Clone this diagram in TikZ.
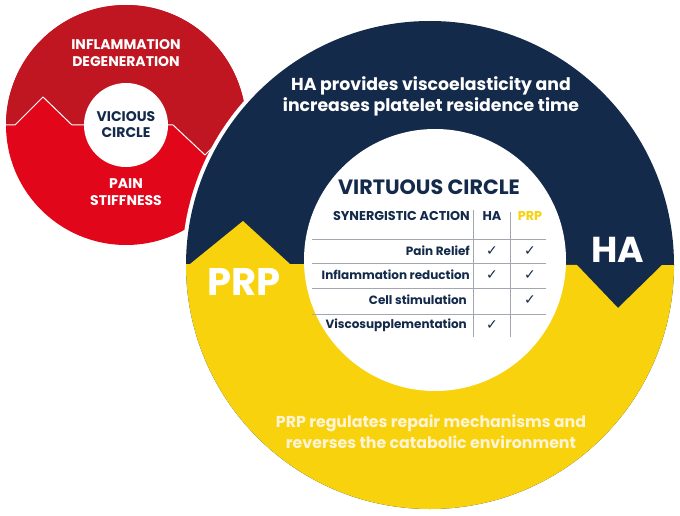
\documentclass[tikz,border=0pt]{standalone}
\usepackage{fontspec}
\setmainfont{Poppins}
\newfontfamily\symfont{DejaVu Sans}

\definecolor{darkred}{HTML}{BF1622}
\definecolor{brightred}{HTML}{E2061B}
\definecolor{navy}{HTML}{142A4B}
\definecolor{gold}{HTML}{F8D20D}
\definecolor{cream}{HTML}{FFF4D6}
\definecolor{rule}{HTML}{A3A8B0}

\newcommand{\fs}[2]{\fontsize{#1}{#2}\selectfont}

\tikzset{
  whitetext/.style={text=white, font=\bfseries, align=center, inner sep=0pt},
  navytext/.style={text=navy, font=\bfseries, align=center, inner sep=0pt},
  rowlabel/.style={text=navy, font=\fs{12}{12}\bfseries, anchor=east, inner sep=0pt},
  tick/.style={text=navy, font=\fs{14}{14}\symfont, inner sep=0pt},
  tableline/.style={draw=rule, line width=0.8pt}
}

\begin{document}
\begin{tikzpicture}[x=1pt, y=-1pt]
    \useasboundingbox (0,0) rectangle (680,516);

    % Vicious circle (small, red)
    \fill[brightred] (126,125) circle[radius=120pt];
    \begin{scope}
        \clip (126,125) circle[radius=120pt];
        \fill[darkred] (0,125) -- (15,125) -- (43,97) -- (72,125) -- (173,125) -- (205,155) -- (236,124) -- (250,124) -- (250,0) -- (0,0) -- cycle; % upper half
        \draw[white, line width=1pt] (0,125) -- (15,125) -- (43,97) -- (72,125) -- (173,125) -- (205,155) -- (236,124) -- (250,124); % zigzag border
    \end{scope}
    \fill[white] (126,125) circle[radius=42pt]; % hole

    \node[whitetext, font=\fs{14}{17}\bfseries] (inflam) at (126,53) {INFLAMMATION\\DEGENERATION};
    \node[navytext, font=\fs{14}{16}\bfseries] (vicious) at (126,125) {VICIOUS\\CIRCLE};
    \node[whitetext, font=\fs{14}{17}\bfseries] (pain) at (126,192) {PAIN\\STIFFNESS};

    % Virtuous circle (big ring)
    \fill[white] (430,265) circle[radius=248pt]; % white border
    \fill[navy] (430,265) circle[radius=244pt];
    \begin{scope}
        \clip (430,265) circle[radius=244pt];
        \fill[gold] (180,264) -- (190,264) -- (243,221) -- (290,264) -- (577,265) -- (618,308) -- (662,265) -- (680,265) -- (680,516) -- (180,516) -- cycle; % lower half
    \end{scope}
    \fill[white] (435,260) circle[radius=131pt]; % inner disc

    \node[whitetext, font=\fs{17.3}{21}\bfseries] (hatext) at (431,96) {HA provides viscoelasticity and\\increases platelet residence time};
    \node[whitetext, font=\fs{15.8}{21}\bfseries, text=cream] (prptext) at (431,432) {PRP regulates repair mechanisms and\\reverses the catabolic environment};
    \node[whitetext, font=\fs{38.5}{38.5}\bfseries] (prp) at (244,282) {PRP};
    \node[whitetext, font=\fs{36}{36}\bfseries] (ha) at (618,250) {HA};

    % Table
    \node[navytext, font=\fs{20.7}{20.7}\bfseries] (virtuous) at (429,187) {VIRTUOUS CIRCLE};
    \node[navytext, font=\fs{12.8}{12.8}\bfseries, anchor=east] (synergy) at (470,216) {SYNERGISTIC ACTION};
    \node[navytext, font=\fs{12.8}{12.8}\bfseries] (colha) at (492,216) {HA};
    \node[navytext, font=\fs{12.8}{12.8}\bfseries, text=gold] (colprp) at (530,216) {PRP};

    \draw[tableline] (473,210) -- (473,337);
    \draw[tableline] (510,212) -- (510,337);
    \foreach \y in {239,263,288,314}
        \draw[tableline] (312,\y) -- (546,\y);

    \node[rowlabel] (painrow) at (470,251) {Pain Relief};
    \node[rowlabel] (inflrow) at (470,275) {Inflammation reduction};
    \node[rowlabel] (cellrow) at (467,300) {Cell stimulation};
    \node[rowlabel] (viscorow) at (467,325) {Viscosupplementation};

    \node[tick] (painha) at (492,251) {✓};
    \node[tick] (painprp) at (530,251) {✓};
    \node[tick] (inflha) at (492,275) {✓};
    \node[tick] (inflprp) at (530,275) {✓};
    \node[tick] (cellprp) at (530,300) {✓};
    \node[tick] (viscoha) at (492,325) {✓};
\end{tikzpicture}
\end{document}
